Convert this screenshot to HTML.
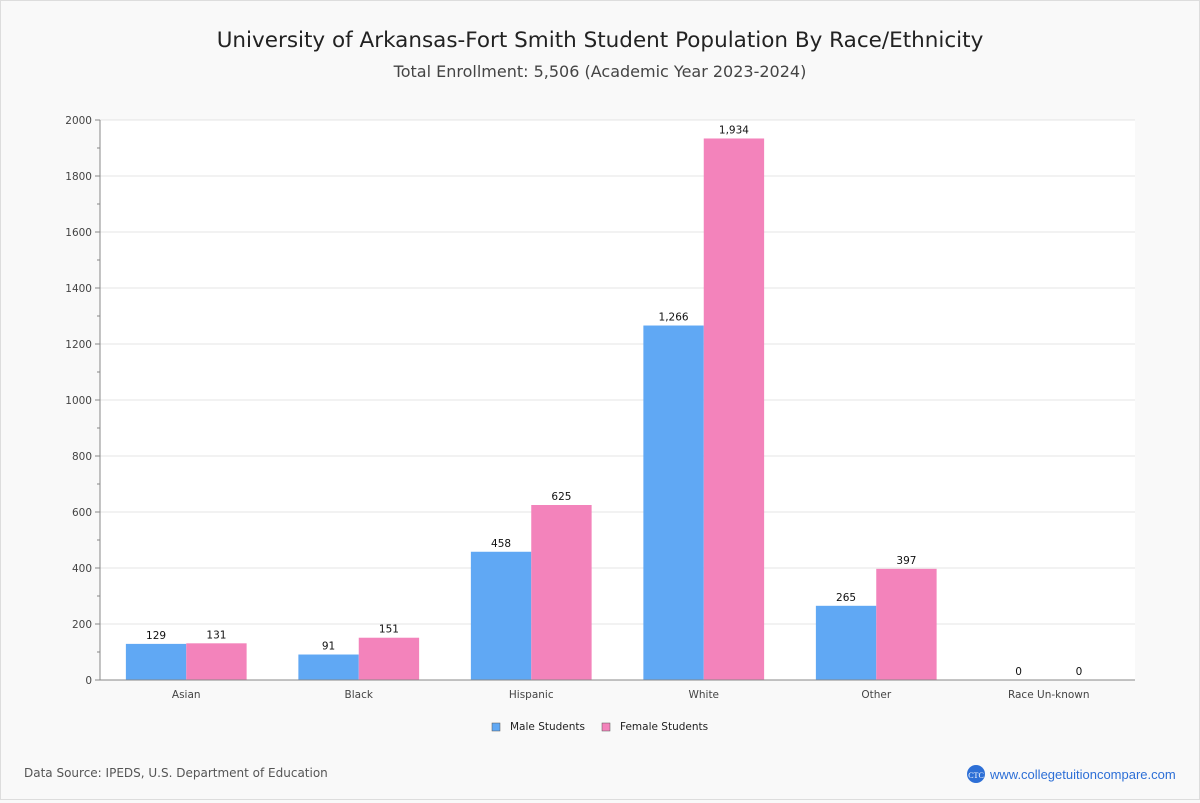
<!DOCTYPE html>
<html><head><meta charset="utf-8"><style>
body{margin:0;background:#f9f9f9;font-family:"DejaVu Sans","Liberation Sans",sans-serif;}
#wrap{position:relative;width:1198px;height:798px;border:1px solid #ddd;background:#f9f9f9;}
</style></head><body>
<div id="wrap">
<svg id="chart" width="1198" height="798" xmlns="http://www.w3.org/2000/svg">
<text x="599" y="46" text-anchor="middle" font-size="21.5" fill="#222">University of Arkansas-Fort Smith Student Population By Race/Ethnicity</text>
<text x="599" y="76" text-anchor="middle" font-size="16" fill="#444">Total Enrollment: 5,506 (Academic Year 2023-2024)</text>
<rect x="99" y="119" width="1035" height="560" fill="#fff"/>
<g id="grid"></g><g id="bars"></g><g id="axes"></g>
<g>
<rect x="491" y="722" width="8" height="8" fill="#60a8f4" stroke="#555" stroke-width="0.5"/>
<text x="509" y="729" font-size="10.5" fill="#222">Male Students</text>
<rect x="601" y="722" width="8" height="8" fill="#f383bb" stroke="#555" stroke-width="0.5"/>
<text x="619" y="729" font-size="10.5" fill="#222">Female Students</text>
</g>
<text x="23" y="776" font-size="12" fill="#555">Data Source: IPEDS, U.S. Department of Education</text>
<circle cx="975" cy="773" r="9" fill="#2d6fd6"/>
<text x="975" y="777" text-anchor="middle" font-size="8" fill="#fff" font-family="Liberation Serif,serif">CTC</text>
<text x="989" y="778" font-size="13" fill="#2d6fd6" font-family="Liberation Sans,sans-serif">www.collegetuitioncompare.com</text>
</svg></div>
<script>
const categories=["Asian","Black","Hispanic","White","Other","Race Un-known"];
const maleValues=[129,91,458,1266,265,0];
const femaleValues=[131,151,625,1934,397,0];
const yTicks=[0,200,400,600,800,1000,1200,1400,1600,1800,2000];
const NS="http://www.w3.org/2000/svg";
const X0=99,X1=1134,Y0=679,Y1=119,YMAX=2000;
const y=v=>Y0-(v/YMAX)*(Y0-Y1);
const band=(X1-X0)/categories.length;
const cx=i=>X0+band*(i+0.5);
function mk(t,a,p,txt){const e=document.createElementNS(NS,t);for(const k in a)e.setAttribute(k,a[k]);if(txt!=null)e.textContent=txt;p.appendChild(e);return e;}
const grid=document.getElementById('grid'),bars=document.getElementById('bars'),axes=document.getElementById('axes');
yTicks.forEach(t=>{
 const l=mk('line',{x1:X0,x2:X1,y1:y(t),y2:y(t),stroke:'#e4e4e4'},grid);
 
 
 const tk=mk('line',{x1:X0-5,x2:X0,y1:y(t),y2:y(t),stroke:'#888'},axes);
 
 
 const lb=mk('text',{x:X0-8,y:y(t)+4,'text-anchor':'end','font-size':10.5,fill:'#444'},axes,String(t));
 
 
 if(t<YMAX){const m=mk('line',{x1:X0-3,x2:X0,y1:y(t+100),y2:y(t+100),stroke:'#888'},axes);
 
 }
});
const bw=band*0.35;
const fmt=v=>v.toLocaleString('en-US');
categories.forEach((c,i)=>{
 [[maleValues[i],'#60a8f4',-1,'male'],[femaleValues[i],'#f383bb',0,'female']].forEach(([v,col,off,s])=>{
  const x=cx(i)+off*bw;
  const r=mk('rect',{x:x,y:y(v),width:bw,height:Y0-y(v),fill:col},bars);
  
  
  const t=mk('text',{x:x+bw/2,y:y(v)-5,'text-anchor':'middle','font-size':10.5,fill:'#111'},bars,fmt(v));
  
  
 });
 const xl=mk('text',{x:cx(i),y:Y0+18,'text-anchor':'middle','font-size':10.5,fill:'#444'},axes,c);
 
 
});
const ya=mk('line',{x1:X0,x2:X0,y1:Y1,y2:Y0,stroke:'#888'},axes);


const xa=mk('line',{x1:X0,x2:X1,y1:Y0,y2:Y0,stroke:'#888'},axes);


</script>
</body></html>
